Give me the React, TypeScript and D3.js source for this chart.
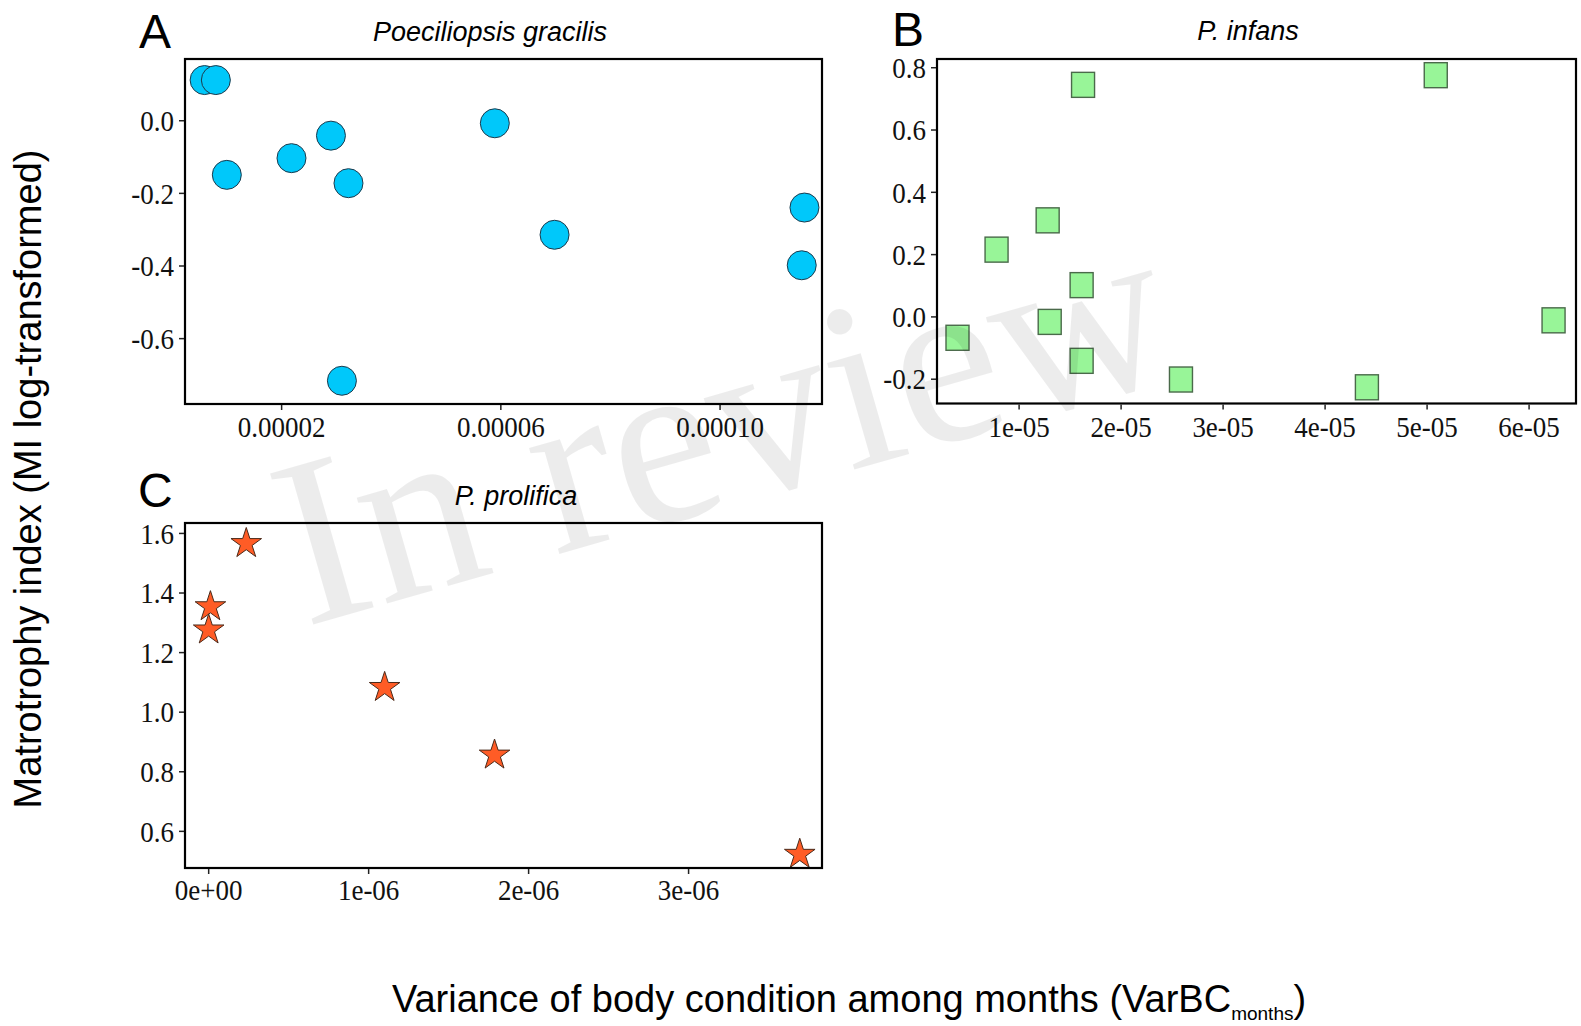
import React from 'react';
import * as d3 from 'd3';

// ---------- data ----------
const gracilisX = [5.95e-6, 8.0e-6, 1.0e-5, 2.18e-5, 2.9e-5, 3.22e-5, 3.1e-5, 5.89e-5, 6.98e-5, 1.154e-4, 1.149e-4];
const gracilisY = [0.112, 0.112, -0.149, -0.103, -0.041, -0.172, -0.716, -0.007, -0.314, -0.239, -0.398];

const infansX = [3.96e-6, 7.79e-6, 1.28e-5, 1.30e-5, 1.627e-5, 1.613e-5, 1.613e-5, 2.587e-5, 4.41e-5, 5.085e-5, 6.24e-5];
const infansY = [-0.067, 0.216, 0.31, -0.016, 0.745, 0.102, -0.141, -0.201, -0.226, 0.776, -0.011];

const prolificaX = [2.35e-7, 1.1e-8, 0, 1.1e-6, 1.787e-6, 3.695e-6];
const prolificaY = [1.566, 1.354, 1.276, 1.083, 0.856, 0.523];

const gracilisXTicks = [0.00002, 0.00006, 0.0001];
const gracilisXLabels = ['0.00002', '0.00006', '0.00010'];
const gracilisYTicks = [0, -0.2, -0.4, -0.6];
const gracilisYLabels = ['0.0', '-0.2', '-0.4', '-0.6'];

const infansXTicks = [1e-5, 2e-5, 3e-5, 4e-5, 5e-5, 6e-5];
const infansXLabels = ['1e-05', '2e-05', '3e-05', '4e-05', '5e-05', '6e-05'];
const infansYTicks = [0.8, 0.6, 0.4, 0.2, 0, -0.2];
const infansYLabels = ['0.8', '0.6', '0.4', '0.2', '0.0', '-0.2'];

const prolificaXTicks = [0, 1e-6, 2e-6, 3e-6];
const prolificaXLabels = ['0e+00', '1e-06', '2e-06', '3e-06'];
const prolificaYTicks = [1.6, 1.4, 1.2, 1.0, 0.8, 0.6];
const prolificaYLabels = ['1.6', '1.4', '1.2', '1.0', '0.8', '0.6'];

const titles = ['Poeciliopsis gracilis', 'P. infans', 'P. prolifica'];
const panelLetters = ['A', 'B', 'C'];
const yAxisTitle = 'Matrotrophy index (MI log-transformed)';
const xAxisTitleMain = 'Variance of body condition among months (VarBC';
const xAxisTitleSub = 'months';
const watermark = 'In review';

// ---------- styling ----------
const SERIF = "'Liberation Serif', 'Times New Roman', serif";
const SANS = "'Liberation Sans', Arial, Helvetica, sans-serif";
const TICK_FONT = 30;
const TICK_SX = 0.9;
const TICK_LEN = 6;

type PanelProps = {
  x0: number; x1: number; y0: number; y1: number;
  xDomain: [number, number]; yDomain: [number, number];
  xTicks: number[]; xLabels: string[]; yTicks: number[]; yLabels: string[];
  xLabelOffset: number;
  title: string; titleX: number; titleY: number;
  letter: string; letterX: number; letterY: number;
  render: (xs: d3.ScaleLinear<number, number>, ys: d3.ScaleLinear<number, number>) => React.ReactNode;
};

function Panel(p: PanelProps) {
  const xs = d3.scaleLinear().domain(p.xDomain).range([p.x0, p.x1]);
  const ys = d3.scaleLinear().domain(p.yDomain).range([p.y1, p.y0]);
  return (
    <g>
      <text x={p.letterX} y={p.letterY} fontFamily={SANS} fontSize={48} fill="#000">{p.letter}</text>
      <text x={p.titleX} y={p.titleY} fontFamily={SANS} fontStyle="italic" fontSize={27} textAnchor="middle" fill="#000">{p.title}</text>
      {p.render(xs, ys)}
      <rect x={p.x0} y={p.y0} width={p.x1 - p.x0} height={p.y1 - p.y0} fill="none" stroke="#000" strokeWidth={2.2} />
      {p.xTicks.map((t, i) => (
        <g key={'xt' + i}>
          <line x1={xs(t)} x2={xs(t)} y1={p.y1 + 1} y2={p.y1 + TICK_LEN} stroke="#222" strokeWidth={1.5} />
          <text transform={`translate(${xs(t)},${p.y1 + p.xLabelOffset}) scale(${TICK_SX},1)`} fontFamily={SERIF} fontSize={TICK_FONT} textAnchor="middle" fill="#111">{p.xLabels[i]}</text>
        </g>
      ))}
      {p.yTicks.map((t, i) => (
        <g key={'yt' + i}>
          <line x1={p.x0 - TICK_LEN} x2={p.x0 - 1} y1={ys(t)} y2={ys(t)} stroke="#222" strokeWidth={1.5} />
          <text transform={`translate(${p.x0 - TICK_LEN - 5},${ys(t)}) scale(${TICK_SX},1)`} dy="0.34em" fontFamily={SERIF} fontSize={TICK_FONT} textAnchor="end" fill="#111">{p.yLabels[i]}</text>
        </g>
      ))}
    </g>
  );
}

export default function App() {
  const star = d3.symbol().type(d3.symbolStar).size(290)() as string;
  return (
    <svg width={1581} height={1026} style={{ position: 'absolute', left: 0, top: 0, background: '#fff' }}>
      <rect x={0} y={0} width={1581} height={1026} fill="#fff" />
      <Panel
        x0={185} x1={822} y0={59} y1={404}
        xDomain={[2.37e-6, 1.186e-4]} yDomain={[-0.78, 0.17]}
        xTicks={gracilisXTicks} xLabels={gracilisXLabels}
        yTicks={gracilisYTicks} yLabels={gracilisYLabels}
        xLabelOffset={33}
        title={titles[0]} titleX={490} titleY={41}
        letter={panelLetters[0]} letterX={139} letterY={48}
        render={(xs, ys) => gracilisX.map((v, i) => (
          <circle key={i} cx={xs(v)} cy={ys(gracilisY[i])} r={14.5} fill="#00C8FA" stroke="#1d3a4c" strokeWidth={1} />
        ))}
      />
      <Panel
        x0={937} x1={1576} y0={59} y1={403.5}
        xDomain={[1.95e-6, 6.46e-5]} yDomain={[-0.278, 0.828]}
        xTicks={infansXTicks} xLabels={infansXLabels}
        yTicks={infansYTicks} yLabels={infansYLabels}
        xLabelOffset={33}
        title={titles[1]} titleX={1248} titleY={40}
        letter={panelLetters[1]} letterX={892} letterY={46}
        render={(xs, ys) => infansX.map((v, i) => (
          <rect key={i} x={xs(v) - 11.5} y={ys(infansY[i]) - 12.5} width={23} height={25} fill="#98F598" stroke="#4a6a4a" strokeWidth={1.4} />
        ))}
      />
      <Panel
        x0={185} x1={822} y0={523} y1={868}
        xDomain={[-1.48e-7, 3.834e-6]} yDomain={[0.477, 1.635]}
        xTicks={prolificaXTicks} xLabels={prolificaXLabels}
        yTicks={prolificaYTicks} yLabels={prolificaYLabels}
        xLabelOffset={32}
        title={titles[2]} titleX={516} titleY={505}
        letter={panelLetters[2]} letterX={138} letterY={507}
        render={(xs, ys) => prolificaX.map((v, i) => (
          <path key={i} d={star} transform={`translate(${xs(v)},${ys(prolificaY[i])})`} fill="#FF5C26" stroke="#4a2a1a" strokeWidth={1} />
        ))}
      />
      <text transform="translate(41,479) rotate(-90)" fontFamily={SANS} fontSize={38} textAnchor="middle" fill="#000">{yAxisTitle}</text>
      <text x={849} y={1012} fontFamily={SANS} fontSize={38} textAnchor="middle" fill="#000">
        {xAxisTitleMain}
        <tspan fontSize={19} dy={8}>{xAxisTitleSub}</tspan>
        <tspan dy={-8}>)</tspan>
      </text>
      <text transform="translate(305,627) rotate(-16)" fontFamily={SERIF} fontSize={240} fill="#000" fillOpacity={0.075}>{watermark}</text>
    </svg>
  );
}
